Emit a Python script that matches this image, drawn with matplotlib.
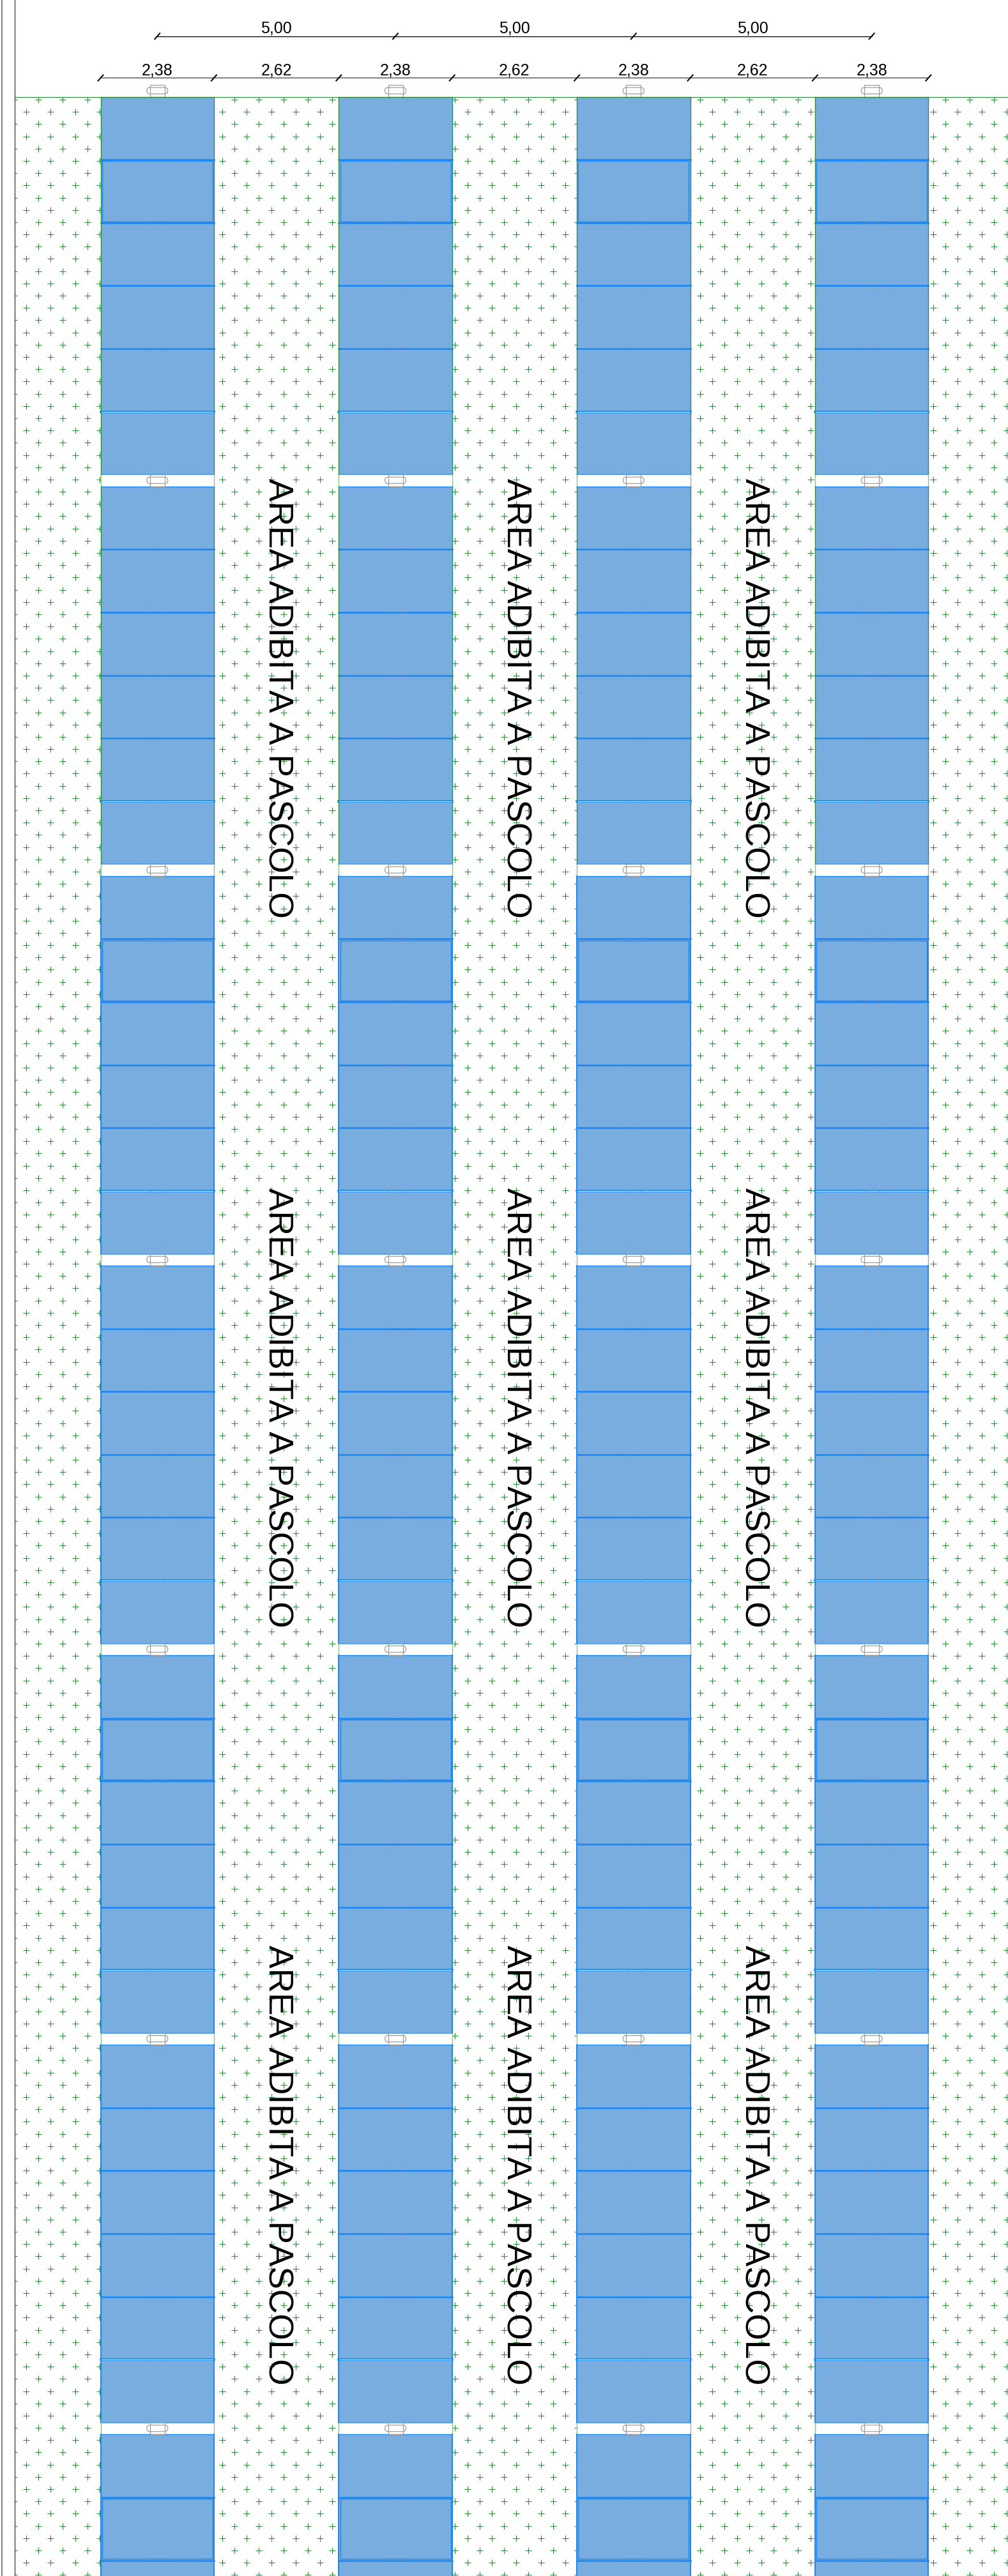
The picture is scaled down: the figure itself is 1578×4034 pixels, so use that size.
import numpy as np
import matplotlib
matplotlib.use("Agg")
import matplotlib.pyplot as plt
from matplotlib.patches import Rectangle, FancyBboxPatch

plt.rcParams['font.family'] = ['Liberation Sans', 'DejaVu Sans']
plt.rcParams['text.kerning_factor'] = 6

# --- data (metres) ---
column_starts = [0.0, 5.0, 10.0, 15.0]
panel_width = 2.38
gap_dims = [2.62, 2.62, 2.62]
span_dims = ["5,00", "5,00", "5,00"]
width_label = "2,38"
gap_label = "2,62"
panels_per_group = 6
panel_height = 1.323
group_pitch = 8.183
group_count = 7
inset_groups = [0, 2, 4, 6]
green_edge_groups = [0, 1]
pasture_label = "AREA ADIBITA A PASCOLO"
pasture_baselines = [3.527, 8.527, 13.527]
pasture_starts_px = [749, 1860, 3046]

PX = 74.56            # pixels per metre
W, H = 1578, 4034
X0, Y0 = 157.5, 151.5 # pixel position of the array origin
LW = 0.72             # one pixel in points
GREEN = "#2e8b3c"
TEAL = "#1f8a80"
PALE = "#8fc08f"
BLUE = "#1a87f5"
FILL = "#7aaddf"
GREY = "#9a9a9a"

fig = plt.figure(figsize=(W / 100, H / 100), dpi=100, facecolor="white")
ax = fig.add_axes([0, 0, 1, 1])
ax.set_xlim(-X0 / PX, (W - X0) / PX)
ax.set_ylim((H - Y0) / PX, -Y0 / PX)
ax.axis("off")

# frame lines
left_frame = -(X0 - 23) / PX
ax.plot([-(X0 - 3) / PX] * 2, [-Y0 / PX, (H - Y0) / PX], color="#808080", lw=2 * LW)
ax.plot([left_frame] * 2, [-Y0 / PX, (H - Y0) / PX], color="#444444", lw=1.4 * LW, zorder=6)
ax.plot([left_frame, (W - X0) / PX], [0, 0], color=GREEN, lw=1.2 * LW, zorder=6)

# pasture texture
clip = Rectangle((left_frame, 0), (W - X0) / PX - left_frame, (H - Y0) / PX, transform=ax.transData)
dx, dy = 38.37 / PX, 19.19 / PX
rows = np.arange(0, int((H - 156) / 19.19) + 1)
for r in rows:
    first = 60.0 if r % 2 == 0 else 41.0
    xs = (first - X0) / PX + dx * np.arange(-1, 42)
    ys = np.full_like(xs, (156 - Y0) / PX + dy * r)
    ln, = ax.plot(xs, ys, ls="none", marker="+", ms=10.5 * LW, mew=1.1 * LW, color=GREEN, zorder=1)
    ln.set_clip_path(clip)

# panel blocks
inset = 2.2 / PX
bottom = (H - Y0) / PX
for c in column_starts:
    ax.add_patch(Rectangle((c, 0), panel_width, bottom, fc="white", ec="none", zorder=2))
    right = c + panel_width
    for g in range(group_count):
        gy = g * group_pitch
        end = gy + panels_per_group * panel_height
        for p in range(panels_per_group):
            y = gy + p * panel_height
            ax.add_patch(Rectangle((c, y), panel_width, panel_height, fc=FILL, ec="none", zorder=3))
        for p in range(1, panels_per_group):
            y = gy + p * panel_height
            if p == 5:
                ax.plot([c, right], [y, y], color=BLUE, lw=3.6 * LW, zorder=4)
                ax.plot([c, right], [y, y], color="#e4f1fd", lw=1.0 * LW, zorder=4)
            else:
                ax.plot([c, right], [y, y], color=BLUE, lw=2.6 * LW, zorder=4)
            mid = c + panel_width / 2
            for side in (-11 / PX, 11 / PX):
                ax.plot([mid + side] * 2, [y - 2 / PX, y + 2 / PX], color="#6a8fb5", lw=0.9 * LW, zorder=4)
            if p == 1 and g in inset_groups:
                ax.add_patch(Rectangle((c + inset, y + inset), panel_width - 2 * inset,
                                       panel_height - 2 * inset, fc="none", ec=BLUE,
                                       lw=1.4 * LW, zorder=4))
        ax.plot([c, right], [end, end], color="#3d9cf7", lw=1.6 * LW, zorder=4)
        ax.plot([c, right], [gy, gy], color=BLUE, lw=1.4 * LW, zorder=4)
        # side edges of this group and of the gap after it
        green = g in green_edge_groups
        ax.plot([c, c], [gy, end], color=GREEN if green else BLUE, lw=(1.4 if green else 2) * LW, zorder=5)
        ax.plot([right, right], [gy, end], color=TEAL if green else BLUE, lw=(1.4 if green else 2) * LW, zorder=5)
        for edge in (c, right):
            ax.plot([edge, edge], [end, gy + group_pitch], color=PALE, lw=1.4 * LW, zorder=5)
        # clamp
        mid = c + panel_width / 2
        cy = gy - 9.5 / PX
        ax.add_patch(Rectangle((mid - 11.5 / PX, cy - 9.5 / PX), 23 / PX, 19 / PX, fc="none",
                               ec=GREY, lw=1.2 * LW, zorder=5))
        ax.add_patch(FancyBboxPatch((mid - 16.5 / PX, cy - 5 / PX), 33 / PX, 10 / PX,
                                    boxstyle=f"round,pad=0,rounding_size={5/PX}", fc="none",
                                    ec=GREY, lw=1.2 * LW, zorder=5))

# dimension lines
def tick(x, y):
    ax.plot([x - 4 / PX, x + 4 / PX], [y + 4.5 / PX, y - 4.5 / PX], color="black", lw=2 * LW, zorder=6)

low_y = (122 - Y0) / PX
high_y = (56.7 - Y0) / PX
ax.plot([column_starts[0], column_starts[-1] + panel_width], [low_y, low_y], color="#666666", lw=1.6 * LW)
for c in column_starts:
    tick(c, low_y)
    tick(c + panel_width, low_y)
    ax.text(c + panel_width / 2, low_y - 5 / PX, width_label, ha="center", va="baseline", fontsize=18, color="black")
for c, g in zip(column_starts[:-1], gap_dims):
    ax.text(c + panel_width + g / 2, low_y - 5 / PX, gap_label, ha="center", va="baseline", fontsize=18, color="black")

centres = [c + panel_width / 2 for c in column_starts]
ax.plot([centres[0], centres[-1]], [high_y, high_y], color="black", lw=1.3 * LW)
for x in centres:
    tick(x, high_y)
for a, b, s in zip(centres[:-1], centres[1:], span_dims):
    ax.text((a + b) / 2, high_y - 5 / PX, s, ha="center", va="baseline", fontsize=18, color="black")

# area labels
for x in pasture_baselines:
    for s in pasture_starts_px:
        ax.text(x, (s - Y0) / PX, pasture_label, rotation=270, rotation_mode="anchor",
                ha="left", va="baseline", fontsize=38.3, color="black", zorder=7)

fig.savefig("out.png", dpi=100)
